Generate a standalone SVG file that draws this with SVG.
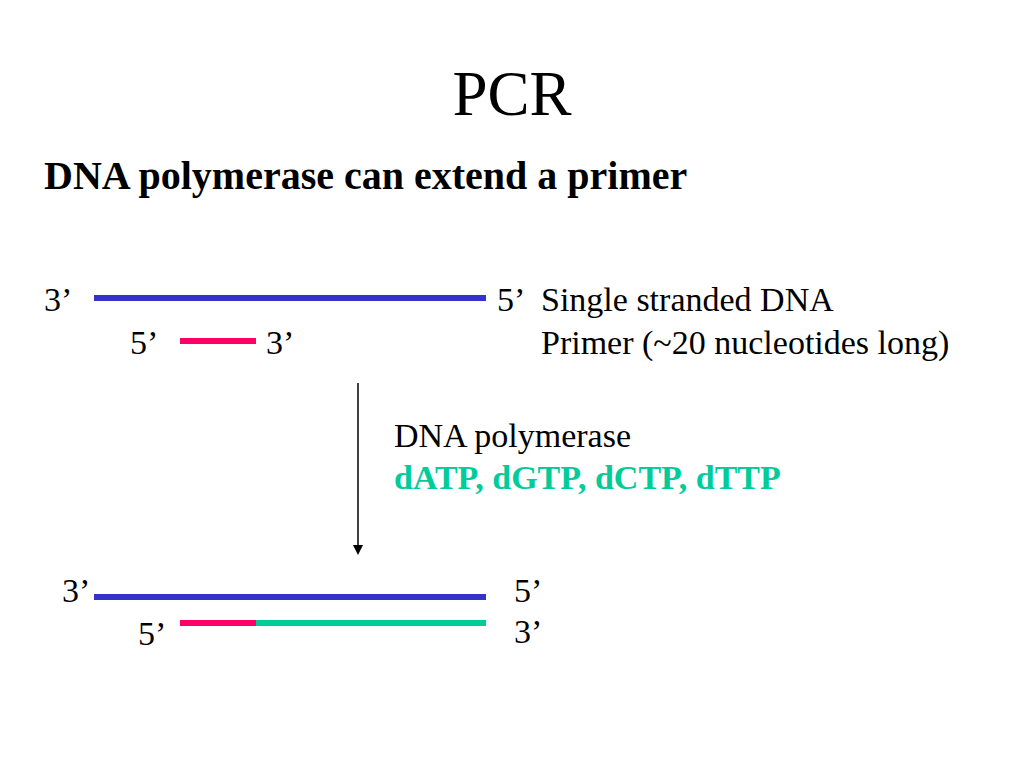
<svg xmlns="http://www.w3.org/2000/svg" width="1024" height="768" viewBox="0 0 1024 768">
<defs>
<style>
text{font-family:"Liberation Serif","Times New Roman",serif;fill:#000}
.lbl{font-size:34px}
.title{font-size:63px}
.head{font-size:40px;font-weight:bold}
.nuc{font-size:34px;font-weight:bold;fill:#00cc99}
.blue{stroke:#3333cc;stroke-width:6}
.pink{stroke:#ff0066;stroke-width:6}
.green{stroke:#00cc99;stroke-width:6}
</style>
</defs>
<rect width="1024" height="768" fill="#fff"/>
<text class="title" x="512" y="115" text-anchor="middle">PCR</text>
<text class="head" x="44" y="189">DNA polymerase can extend a primer</text>
<g id="top-strand">
<line class="blue" x1="94" y1="298" x2="486" y2="298"/>
<text class="lbl" x="44" y="311">3’</text>
<text class="lbl" x="497" y="311">5’</text>
<text class="lbl" x="541" y="311">Single stranded DNA</text>
</g>
<g id="primer">
<line class="pink" x1="180" y1="341" x2="256" y2="341"/>
<text class="lbl" x="130" y="354">5’</text>
<text class="lbl" x="266" y="354">3’</text>
<text class="lbl" x="541" y="354">Primer (~20 nucleotides long)</text>
</g>
<g id="reagents">
<text class="lbl" x="394" y="447">DNA polymerase</text>
<text class="nuc" x="394" y="489">dATP, dGTP, dCTP, dTTP</text>
</g>
<g id="bottom-strand">
<line class="blue" x1="94" y1="597" x2="486" y2="597"/>
<text class="lbl" x="62" y="602">3’</text>
<text class="lbl" x="514" y="602">5’</text>
</g>
<g id="extended">
<line class="pink" x1="180" y1="623" x2="256" y2="623"/>
<line class="green" x1="256" y1="623" x2="486" y2="623"/>
<text class="lbl" x="138" y="645">5’</text>
<text class="lbl" x="514" y="643">3’</text>
</g>
<g id="connectors">
<line x1="358" y1="383" x2="358" y2="547" stroke="#000" stroke-width="1.5"/>
<path d="M353,545 L363,545 L358,555 Z" fill="#000"/>
</g>
</svg>
